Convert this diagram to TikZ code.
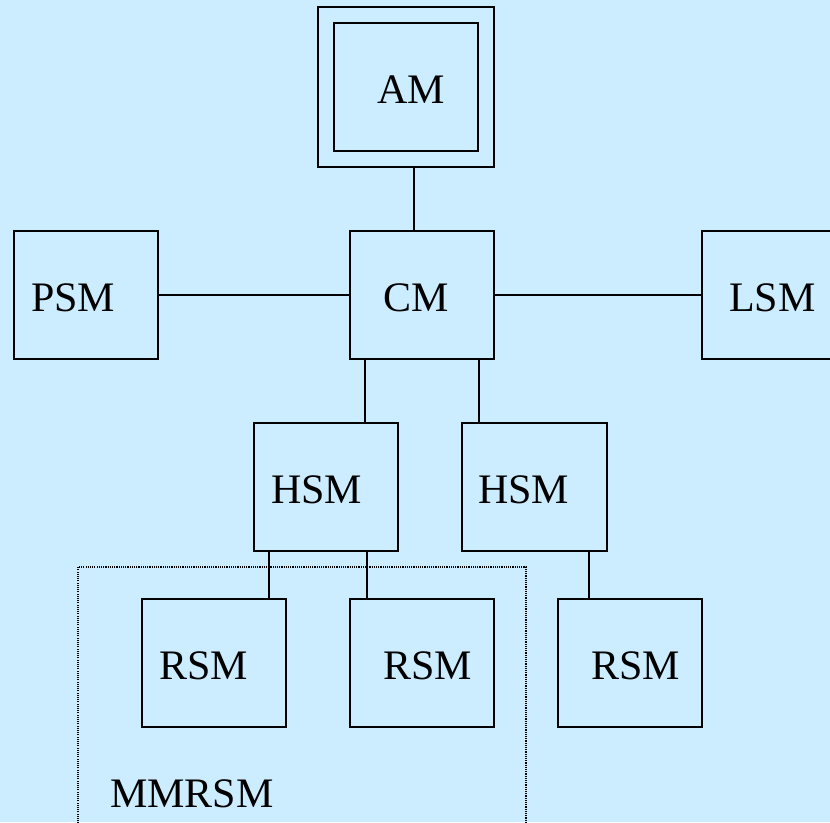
\documentclass[tikz,border=0pt]{standalone}
\usepackage{fontspec}
\setmainfont{Liberation Serif}
\definecolor{bgblue}{RGB}{204,236,255}
\tikzset{
  box/.style={draw=black, line width=1.6pt, rectangle, inner sep=0pt},
  lbl/.style={inner sep=0pt, anchor=base west, font=\fontsize{42}{48}\selectfont},
  wire/.style={draw=black, line width=1.6pt},
  grp/.style={draw=black, line width=1.2pt, dash pattern=on 1.1pt off 1.1pt}
}
\begin{document}
\begin{tikzpicture}[x=1pt, y=-1pt]
\fill[bgblue] (0,0) rectangle (830,822);
\useasboundingbox (0,0) rectangle (830,822);
% boxes (image coordinates)
\node[box, minimum width=176pt, minimum height=160pt] (AMo) at (406,87) {};
\node[box, minimum width=144pt, minimum height=128pt] (AM) at (406,87) {};
\node[box, minimum width=144pt, minimum height=128pt] (CM) at (422,295) {};
\node[box, minimum width=144pt, minimum height=128pt] (PSM) at (86,295) {};
\node[box, minimum width=144pt, minimum height=128pt] (LSM) at (774,295) {};
\node[box, minimum width=144pt, minimum height=128pt] (HSMa) at (326,487) {};
\node[box, minimum width=145pt, minimum height=128pt] (HSMb) at (534.5,487) {};
\node[box, minimum width=144pt, minimum height=128pt] (RSMa) at (214,663) {};
\node[box, minimum width=144pt, minimum height=128pt] (RSMb) at (422,663) {};
\node[box, minimum width=144pt, minimum height=128pt] (RSMc) at (630,663) {};
% group
\coordinate (gbl) at (78,830);
\coordinate (gbr) at (526,830);
\draw[grp] (gbl) |- (526,567) coordinate (gtr) -- (gbr);
% labels
\node[lbl] (AMt) at (377,103) {AM};
\node[lbl] (CMt) at (383,311) {CM};
\node[lbl] (PSMt) at (31,311) {PSM};
\node[lbl] (LSMt) at (729,311) {LSM};
\node[lbl] (HSMat) at (271,503) {HSM};
\node[lbl] (HSMbt) at (478,503) {HSM};
\node[lbl] (RSMat) at (159,679) {RSM};
\node[lbl] (RSMbt) at (383,679) {RSM};
\node[lbl] (RSMct) at (591,679) {RSM};
\node[lbl] (MMt) at (110,807) {MMRSM};
% connectors
\draw[wire] ([xshift=8pt]AMo.south) -- ([xshift=-8pt]CM.north);
\draw[wire] (PSM.east) -- (CM.west);
\draw[wire] (CM.east) -- (LSM.west);
\draw[wire] ([xshift=16pt]CM.south west) -- ([xshift=16pt]CM.south west |- HSMa.north);
\draw[wire] ([xshift=-16pt]CM.south east) -- ([xshift=-16pt]CM.south east |- HSMb.north);
\draw[wire] ([xshift=16pt]HSMa.south west) -- ([xshift=16pt]HSMa.south west |- RSMa.north);
\draw[wire] ([xshift=-32pt]HSMa.south east) -- ([xshift=-32pt]HSMa.south east |- RSMb.north);
\draw[wire] ([xshift=32pt]RSMc.north west |- HSMb.south) -- ([xshift=32pt]RSMc.north west);
\end{tikzpicture}
\end{document}
